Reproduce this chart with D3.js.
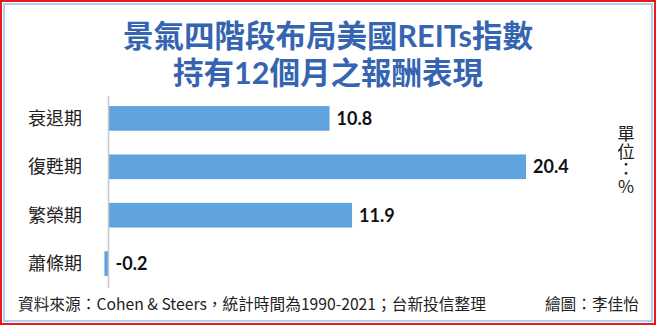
<!DOCTYPE html>
<html>
<head>
<meta charset="utf-8">
<script src="https://cdn.jsdelivr.net/npm/d3@7/dist/d3.min.js"></script>
<style>
  html, body { margin: 0; padding: 0; background: #fff; }
  svg { display: block; }
</style>
</head>
<body>
<svg id="chart" width="656" height="325"></svg>
<script>
// Holding-period (12 months) returns of the US REITs index by business-cycle phase
const categories = ["衰退期", "復甦期", "繁榮期", "蕭條期"];
const values = [10.8, 20.4, 11.9, -0.2];
const valueLabels = ["10.8", "20.4", "11.9", "-0.2"];
const titleLines = ["景氣四階段布局美國REITs指數", "持有12個月之報酬表現"];
const unitText = "單位：%";
const sourceText = "資料來源：Cohen & Steers，統計時間為1990-2021；台新投信整理";
const creditText = "繪圖：李佳怡";

const W = 656, H = 325;
const svg = d3.select("#chart");
const cjk = "'Noto Sans CJK TC', 'Noto Sans CJK SC', sans-serif";
const titleFont = "'Lato', 'Noto Sans CJK TC', sans-serif";
const num = "'Lato', 'Open Sans', sans-serif";

// frame: outer red line, inner light-blue line
svg.append("rect").attr("x", 1).attr("y", 1).attr("width", W - 2).attr("height", H - 2)
  .attr("fill", "#fff").attr("stroke", "#f0141e").attr("stroke-width", 2);
svg.append("rect").attr("x", 4).attr("y", 4).attr("width", W - 8).attr("height", H - 8)
  .attr("fill", "none").attr("stroke", "#a9d3f3").attr("stroke-width", 2);

// title
svg.append("g").selectAll("text").data(titleLines).join("text")
  .attr("x", 328).attr("y", (d, i) => 47 + i * 37)
  .attr("text-anchor", "middle")
  .attr("font-family", titleFont).attr("font-weight", 700).attr("font-size", 30.5)
  .attr("fill", "#3565b0")
  .text(d => d);

// scales
const x = d3.scaleLinear().domain([0, 20.4]).range([108.5, 526]);
const y = d3.scaleBand().domain(categories).range([93, 289]).paddingInner(0.49).paddingOuter(0.27);

// bars
svg.append("g").selectAll("rect").data(values).join("rect")
  .attr("x", d => x(Math.min(0, d)))
  .attr("y", (d, i) => y(categories[i]))
  .attr("width", d => Math.abs(x(d) - x(0)))
  .attr("height", y.bandwidth())
  .attr("fill", "#5fa4de");

// zero axis line
svg.append("line")
  .attr("x1", x(0)).attr("x2", x(0)).attr("y1", 96).attr("y2", 288)
  .attr("stroke", "#c8c8c8").attr("stroke-width", 1.5);

// category labels
const yAxis = d3.axisLeft(y).tickSize(0).tickPadding(0);
const ga = svg.append("g").attr("transform", "translate(82,0)").call(yAxis);
ga.select(".domain").remove();
ga.selectAll("text")
  .attr("font-family", cjk).attr("font-size", 18).attr("fill", "#222")
  .attr("dy", "0.36em");

// value labels
svg.append("g").selectAll("text").data(values).join("text")
  .attr("x", d => Math.max(x(d), x(0)) + 7)
  .attr("y", (d, i) => y(categories[i]) + y.bandwidth() / 2)
  .attr("dy", "0.36em")
  .attr("font-family", num).attr("font-weight", 700).attr("font-size", 18)
  .attr("fill", "#111")
  .text((d, i) => valueLabels[i]);

// unit, set vertically
svg.append("text")
  .attr("x", 626).attr("y", 125)
  .style("writing-mode", "vertical-rl")
  .style("text-orientation", "upright")
  .attr("font-family", cjk).attr("font-size", 17.5).attr("fill", "#222")
  .text(unitText);

// footer
svg.append("text").attr("x", 18).attr("y", 310)
  .attr("font-family", cjk).attr("font-size", 15.7).attr("fill", "#222")
  .text(sourceText);
svg.append("text").attr("x", 639).attr("y", 310).attr("text-anchor", "end")
  .attr("font-family", cjk).attr("font-size", 15.7).attr("fill", "#222")
  .text(creditText);
</script>
</body>
</html>
